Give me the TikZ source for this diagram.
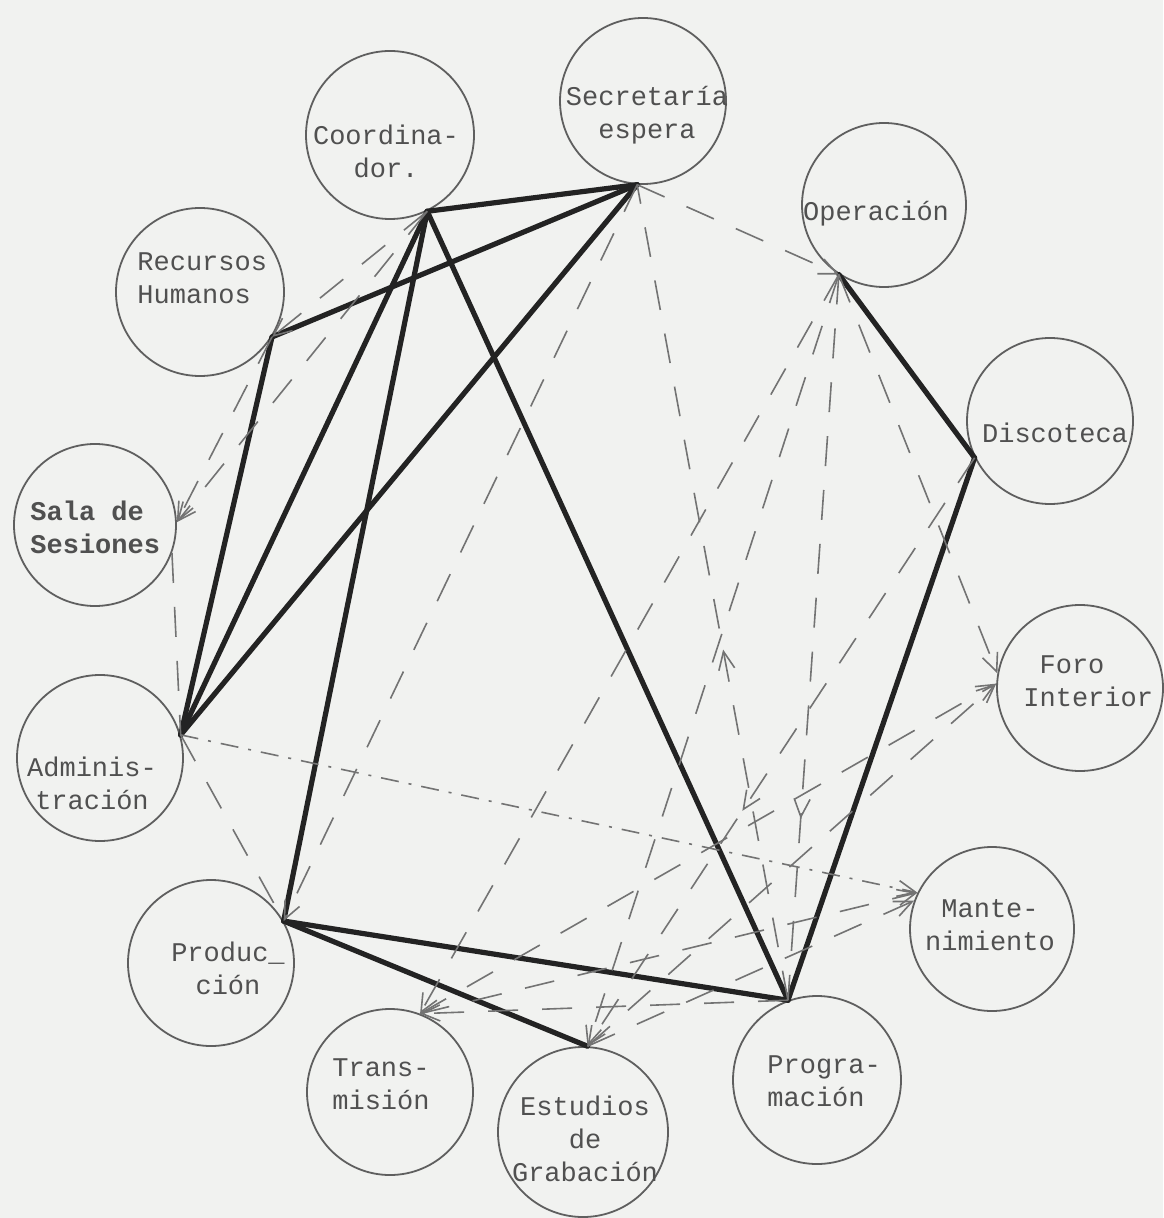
\documentclass[tikz,border=0pt]{standalone}
\usepackage{fontspec}
\setmonofont{Liberation Mono}
\usetikzlibrary{arrows.meta,decorations.markings}
\definecolor{paper}{RGB}{241,242,240}
\definecolor{cline}{RGB}{95,95,95}
\definecolor{ctxt}{RGB}{80,80,80}
\definecolor{cdash}{RGB}{115,115,115}
\definecolor{ctie}{RGB}{35,35,35}
\tikzset{
  sgram/.style={x=0.5pt,y=-0.5pt},
  dept/.style={circle,draw=cline,line width=0.9pt,minimum size=#1,inner sep=0pt},
  dept/.default=84pt,
  dtxt/.style={font=\ttfamily\fontsize{13.5}{16.5}\selectfont,text=ctxt,align=center,inner sep=0pt},
  tie/.style={ctie,line width=2.6pt,line cap=round,line join=round},
  link/.style={cdash,line width=0.8pt,dash pattern=on 15pt off 12pt},
  dotlink/.style={cdash,line width=0.8pt,dash pattern=on 9pt off 5pt on 1.5pt off 5pt},
  tip/.style={-{Straight Barb[length=9pt,width=8pt]}},
  midtip/.style={postaction={decorate},decoration={markings,
    mark=at position #1 with {\arrow{Straight Barb[length=9pt,width=8pt]}}}}
}

\begin{document}
\begin{tikzpicture}[sgram]
    \fill[paper] (0,0) rectangle (1163,1218);
    \useasboundingbox (0,0) rectangle (1163,1218);
    % departments
    \node[dept] (coord) at (390,135) {};
    \node[dept=83pt] (secr) at (643,101) {};
    \node[dept=82pt] (oper) at (884,205) {};
    \node[dept] (rrhh) at (200,292) {};
    \node[dept=83pt] (disc) at (1050,421) {};
    \node[dept=81pt] (sala) at (95,525) {};
    \node[dept=83pt] (foro) at (1080,688) {};
    \node[dept=83pt] (admin) at (100,758) {};
    \node[dept=82pt] (mant) at (992,929) {};
    \node[dept=83pt] (prod) at (211,963) {};
    \node[dept=83pt] (trans) at (390,1092) {};
    \node[dept=85pt] (estu) at (583,1132) {};
    \node[dept] (prog) at (817,1080) {};
    % names
    \node[dtxt] (coord-t) at (386,151) {Coordina-\\dor.};
    \node[dtxt] (secr-t) at (647,115) {Secretaría\\espera};
    \node[dtxt] (oper-t) at (876,214) {Operación};
    \node[dtxt,anchor=west,align=left] (rrhh-t) at (137,278) {Recursos\\Humanos};
    \node[dtxt] (disc-t) at (1055,433) {Discoteca};
    \node[dtxt,anchor=west,align=left,font=\ttfamily\bfseries\fontsize{13.5}{16.5}\selectfont] (sala-t) at (30,527) {Sala de\\Sesiones};
    \node[dtxt,anchor=west,align=left] (foro-t) at (1023,681) {\ Foro\\Interior};
    \node[dtxt] (admin-t) at (92,783) {Adminis-\\tración};
    \node[dtxt] (mant-t) at (990,925) {Mante-\\nimiento};
    \node[dtxt] (prod-t) at (228,968) {Produc\_\\ción};
    \node[dtxt] (trans-t) at (381,1084) {Trans-\\misión};
    \node[dtxt] (estu-t) at (585,1139) {Estudios\\de\\Grabación};
    \node[dtxt,anchor=west,align=left] (prog-t) at (767,1081) {Progra-\\mación};
    % meeting points on the rims
    \coordinate (jC) at (coord.-64);
    \coordinate (jS) at (secr.-94);
    \coordinate (jO) at (oper.-123);
    \coordinate (jD) at (disc.206);
    \coordinate (jP) at (prog.110);
    \coordinate (jPr) at (prod.30);
    \coordinate (jE) at (estu.87);
    \coordinate (jA) at (admin.16);
    \coordinate (jR) at (rrhh.-32);
    % strong ties
    \draw[tie] (jC) -- (jS);
    \draw[tie] (jC) -- (jA);
    \draw[tie] (jC) -- (jPr);
    \draw[tie] (jC) -- (jP);
    \draw[tie] (jS) -- (jR);
    \draw[tie] (jS) -- (jA);
    \draw[tie] (jR) -- (jA);
    \draw[tie] (jO) -- (jD);
    \draw[tie] (jD) -- (jP);
    \draw[tie] (jPr) -- (jP);
    \draw[tie] (jPr) -- (jE);
    % weak links
    \draw[link,tip] (jS) -- (jO);
    \draw[link,midtip=0.43] (jP) -- (jS);
    \draw[link,tip] (jS) -- (jPr);
    \draw[link,tip] (jC) -- (jR);
    \draw[link,tip] (jC) -- (sala.2);
    \draw[link,tip] (jR) -- (sala.2);
    \draw[link] (sala.-20) -- (jA);
    \draw[link] (jA) -- (jPr);
    \draw[dotlink,tip] (jA) -- (mant.154);
    \draw[link,tip] (jO) -- (trans.69);
    \draw[link,tip] (jO) -- (jE);
    \draw[link,midtip=0.75] (jO) -- (jP);
    \draw[link,tip] (jO) -- (foro.170);
    \draw[link,tip,midtip=0.6] (jD) -- (jE);
    \draw[link,tip] (trans.69) -- (foro.177);
    \draw[link,tip] (jE) -- (foro.177);
    \draw[link,tip] (trans.69) -- (mant.154);
    \draw[link,tip] (jP) -- (trans.69);
    \draw[link,tip] (jE) -- (mant.160);
\end{tikzpicture}
\end{document}
